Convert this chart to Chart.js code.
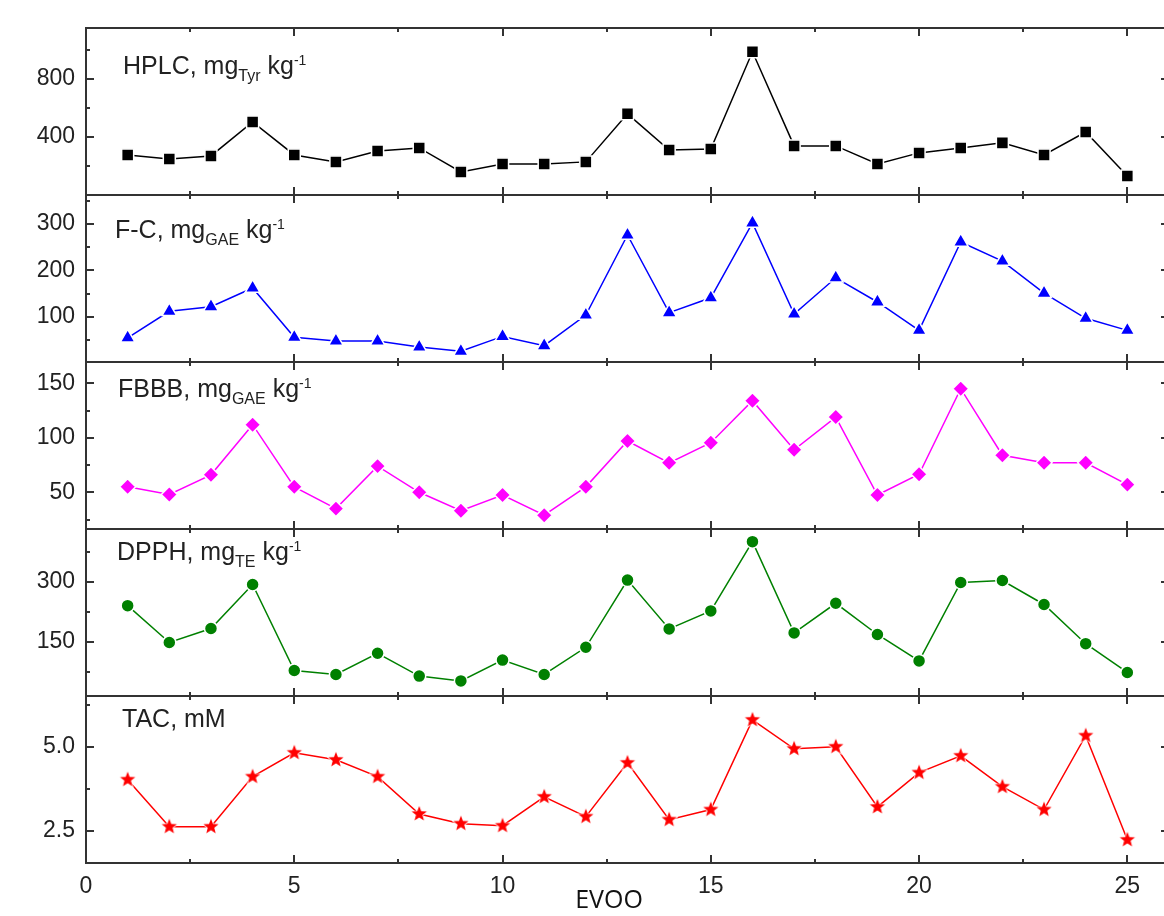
<!DOCTYPE html>
<html>
<head>
<meta charset="utf-8">
<script src="https://cdn.jsdelivr.net/npm/chart.js@4.4.0/dist/chart.umd.min.js"></script>
<style>
  html, body { margin: 0; background: #fff; overflow: hidden; }
  #wrap { position: relative; width: 1164px; height: 916px; overflow: hidden; }
  #wrap canvas { position: absolute; left: 0; }
  .lbl { position: absolute; font: 25px/1 "Liberation Sans", Arial, sans-serif; color: #222; white-space: nowrap; }
  .lbl .sb { font-size: 16px; position: relative; top: 7px; }
  .lbl .sp { font-size: 14px; position: relative; top: -9px; }
  #xtitle { position: absolute; left: 509px; width: 200px; top: 886px; text-align: center;
            font: 25px/1 "Open Sans", sans-serif; color: #111; }
</style>
</head>
<body>
<div id="wrap">
  <canvas id="c1" width="1169" height="187" style="top:18px"></canvas>
  <canvas id="c2" width="1169" height="187" style="top:185px"></canvas>
  <canvas id="c3" width="1169" height="187" style="top:352px"></canvas>
  <canvas id="c4" width="1169" height="187" style="top:519px"></canvas>
  <canvas id="c5" width="1169" height="217" style="top:686px"></canvas>
  <div class="lbl" style="left:123px;top:53px">HPLC, mg<span class="sb">Tyr</span> kg<span class="sp">-1</span></div>
  <div class="lbl" style="left:115px;top:217px">F-C, mg<span class="sb">GAE</span> kg<span class="sp">-1</span></div>
  <div class="lbl" style="left:118px;top:376px">FBBB, mg<span class="sb">GAE</span> kg<span class="sp">-1</span></div>
  <div class="lbl" style="left:117px;top:539px">DPPH, mg<span class="sb">TE</span> kg<span class="sp">-1</span></div>
  <div class="lbl" style="left:122px;top:706px">TAC, mM</div>
  <div id="xtitle">EVOO</div>
</div>
<script>
// EVOO sample numbers
const evoo = [1,2,3,4,5,6,7,8,9,10,11,12,13,14,15,16,17,18,19,20,21,22,23,24,25];

// values
const hplc = [276,248,269,503,276,228,303,324,159,214,214,228,559,310,317,986,338,338,214,290,324,359,276,434,131];
const fc   = [55,112,122,162,56,48,48,35,26,58,38,104,276,109,141,302,106,184,132,71,261,220,151,97,71];
const fbbb = [55,48,66,112,55,35,74,50,33,47.5,29,55,97,77,95.5,134,89,119,47.5,66.5,145,84,77,77,57];
const dpph = [240,148,183,293,78,68,121,64,52,104,68,136,304,182,227,400,172,246,168,102,298,303,243,145,73];
const tac  = [4.02,2.62,2.62,4.11,4.82,4.61,4.11,3.0,2.71,2.65,3.51,2.92,4.52,2.83,3.13,5.80,4.94,5.0,3.21,4.23,4.73,3.81,3.13,5.33,2.23];

// tick labels
const xTicks = [0,5,10,15,20,25];
const hplcTicks = [400,800];
const fcTicks = [100,200,300];
const fbbbTicks = [50,100,150];
const dpphTicks = [150,300];
const tacTicks = [2.5,5.0];

// filled five point star for the TAC markers
function starImage(color) {
  const c = document.createElement('canvas');
  c.width = 18; c.height = 18;
  const g = c.getContext('2d');
  g.beginPath();
  for (let i = 0; i < 10; i++) {
    const r = i % 2 === 0 ? 8 : 3.4;
    const a = -Math.PI / 2 + i * Math.PI / 5;
    g.lineTo(9 + r * Math.cos(a), 9 + r * Math.sin(a));
  }
  g.closePath();
  g.fillStyle = color;
  g.strokeStyle = '#fff';
  g.lineWidth = 1.5;
  g.stroke();
  g.fill();
  return c;
}

// box frame with inward ticks on all four sides
const frameTicks = {
  id: 'frameTicks',
  afterDraw(chart, args, opts) {
    const { ctx, chartArea: a, scales: { x, y } } = chart;
    ctx.save();
    ctx.strokeStyle = '#333';
    ctx.lineWidth = 2;
    ctx.beginPath();
    for (let v = 0; v <= x.max; v += 2.5) {
      const px = Math.round(x.getPixelForValue(v));
      const len = v % 5 === 0 ? 8 : 4;
      ctx.moveTo(px, a.top); ctx.lineTo(px, a.top + len);
      ctx.moveTo(px, a.bottom); ctx.lineTo(px, a.bottom - len);
    }
    for (let i = 0; ; i++) {
      const v = opts.base + i * opts.step;
      if (v > y.max) break;
      if (v < y.min) continue;
      const py = Math.round(y.getPixelForValue(v));
      const len = i % 2 === 0 ? 8 : 4;
      ctx.moveTo(a.left, py); ctx.lineTo(a.left + len, py);
      ctx.moveTo(a.right, py); ctx.lineTo(a.right - len, py);
    }
    ctx.stroke();
    ctx.strokeRect(a.left, a.top, a.right - a.left, a.bottom - a.top);
    ctx.restore();
  }
};

const tickFont = { family: '"Liberation Sans", Arial, sans-serif', size: 23 };

function noPad(s) {
  s.paddingTop = 0; s.paddingBottom = 0; s.paddingLeft = 0; s.paddingRight = 0;
}

function panel(id, values, color, marker, radius, yMin, yMax, yTicks, minor, digits, last) {
  return new Chart(document.getElementById(id), {
    type: 'line',
    data: {
      datasets: [{
        data: evoo.map((e, i) => ({ x: e, y: values[i] })),
        borderColor: color,
        borderWidth: 1.5,
        pointStyle: marker,
        pointRadius: radius,
        pointBackgroundColor: color,
        pointBorderColor: '#fff',
        pointBorderWidth: 1.5,
        tension: 0
      }]
    },
    options: {
      responsive: false,
      animation: false,
      events: [],
      layout: { autoPadding: false, padding: { top: 10, bottom: last ? 0 : 10, left: 0, right: 0 } },
      plugins: {
        legend: { display: false },
        tooltip: { enabled: false },
        frameTicks: { base: yTicks[0] - minor * 2 * Math.ceil((yTicks[0] - yMin) / (minor * 2)), step: minor }
      },
      scales: {
        x: {
          type: 'linear', min: 0, max: 26,
          display: last,
          grid: { display: false, drawTicks: false },
          border: { display: false },
          afterBuildTicks: s => { s.ticks = xTicks.map(v => ({ value: v })); },
          afterFit: s => { noPad(s); s.height = last ? 40 : 0; },
          ticks: { font: tickFont, color: '#222', padding: 10 }
        },
        y: {
          min: yMin, max: yMax,
          grid: { display: false, drawTicks: false },
          border: { display: false },
          afterBuildTicks: s => { s.ticks = yTicks.map(v => ({ value: v })); },
          afterFit: s => { noPad(s); s.width = 86; },
          ticks: { font: tickFont, color: '#222', padding: 11, callback: v => v.toFixed(digits) }
        }
      }
    },
    plugins: [frameTicks]
  });
}

panel('c1', hplc, '#000000', 'rect', 8.5, 0, 1150, hplcTicks, 200, 0, false);
panel('c2', fc, '#0000ff', 'triangle', 8.5, 3, 362, fcTicks, 50, 0, false);
panel('c3', fbbb, '#ff00ff', 'rectRot', 8, 16.3, 169.5, fbbbTicks, 25, 0, false);
panel('c4', dpph, '#008000', 'circle', 6.5, 14.2, 431.7, dpphTicks, 75, 0, false);
panel('c5', tac, '#ff0000', starImage('#ff0000'), 7, 1.54, 6.51, tacTicks, 1.25, 1, true);
</script>
</body>
</html>
